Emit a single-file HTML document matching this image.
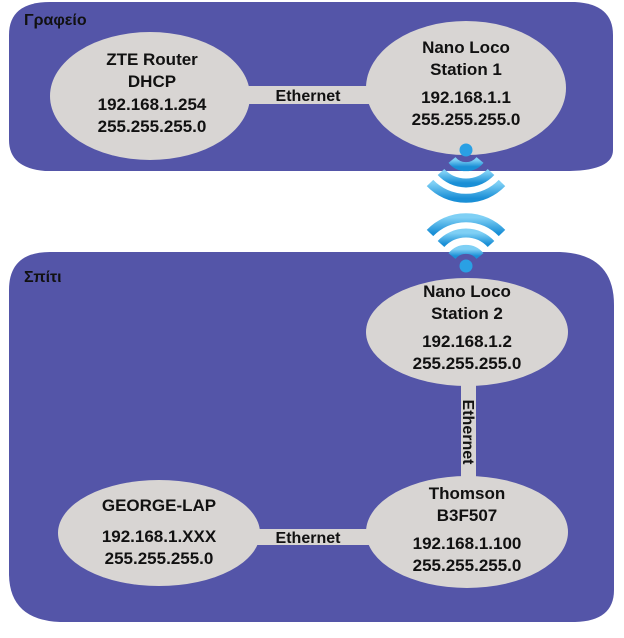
<!DOCTYPE html>
<html><head><meta charset="utf-8"><style>
html,body{margin:0;padding:0;background:#fff;}
svg{display:block;}
text{font-family:"Liberation Sans",sans-serif;font-weight:bold;fill:#111;}
</style></head><body>
<svg width="624" height="638" viewBox="0 0 624 638" xmlns="http://www.w3.org/2000/svg">
<defs>
<linearGradient id="wg" x1="0" y1="0" x2="0" y2="1">
<stop offset="0" stop-color="#7fd0f5"/><stop offset="1" stop-color="#1a8fd6"/>
</linearGradient>
</defs>
<path d="M50,2 H575 Q613,4 613,35 V150 Q613,170 570,171 H45 Q9,168 9,140 V35 Q9,2 50,2 Z" fill="#5455a8"/>
<path d="M50,252 H560 Q614,254 614,305 V590 Q614,621 575,622 H60 Q10,620 9,575 V290 Q9,252 50,252 Z" fill="#5455a8"/>
<text x="24" y="25" font-size="16">Γραφείο</text>
<text x="24" y="282" font-size="16">Σπίτι</text>

<rect x="245" y="86" width="125" height="18" fill="#d8d5d3"/>
<rect x="461" y="380" width="15" height="100" fill="#d8d5d3"/>
<rect x="255" y="529" width="115" height="16" fill="#d8d5d3"/>
<text x="308" y="101" font-size="16" text-anchor="middle">Ethernet</text>
<text x="308" y="543" font-size="16" text-anchor="middle">Ethernet</text>
<text transform="translate(463,432) rotate(90)" font-size="16" text-anchor="middle">Ethernet</text>

<ellipse cx="150" cy="96" rx="100" ry="64" fill="#d8d5d3"/>
<ellipse cx="466" cy="88" rx="100" ry="67" fill="#d8d5d3"/>
<ellipse cx="467" cy="332" rx="101" ry="54" fill="#d8d5d3"/>
<ellipse cx="467" cy="532" rx="101" ry="56" fill="#d8d5d3"/>
<ellipse cx="159" cy="533" rx="101" ry="53" fill="#d8d5d3"/>

<g font-size="17" text-anchor="middle">
<text x="152" y="65">ZTE Router</text>
<text x="152" y="87">DHCP</text>
<text x="152" y="110">192.168.1.254</text>
<text x="152" y="132">255.255.255.0</text>

<text x="466" y="53">Nano Loco</text>
<text x="466" y="75">Station 1</text>
<text x="466" y="103">192.168.1.1</text>
<text x="466" y="125">255.255.255.0</text>

<text x="467" y="297">Nano Loco</text>
<text x="467" y="319">Station 2</text>
<text x="467" y="347">192.168.1.2</text>
<text x="467" y="369">255.255.255.0</text>

<text x="467" y="499">Thomson</text>
<text x="467" y="521">B3F507</text>
<text x="467" y="549">192.168.1.100</text>
<text x="467" y="571">255.255.255.0</text>

<text x="159" y="511">GEORGE-LAP</text>
<text x="159" y="542">192.168.1.XXX</text>
<text x="159" y="564">255.255.255.0</text>
</g>

<g fill="none" stroke="url(#wg)" stroke-width="9">
<circle cx="466" cy="150" r="6.5" fill="#2aa0e4" stroke="none"/>
<path d="M452,160 A18,18 0 0 0 480,160"/>
<path d="M441,172 A34,34 0 0 0 491,172"/>
<path d="M430,183 A50,50 0 0 0 502,183"/>
</g>
<g fill="none" stroke="url(#wg)" stroke-width="9">
<circle cx="466" cy="266" r="6.5" fill="#2aa0e4" stroke="none"/>
<path d="M452,256 A18,18 0 0 1 480,256"/>
<path d="M441,244 A34,34 0 0 1 491,244"/>
<path d="M430,233 A50,50 0 0 1 502,233"/>
</g>
</svg>
</body></html>
